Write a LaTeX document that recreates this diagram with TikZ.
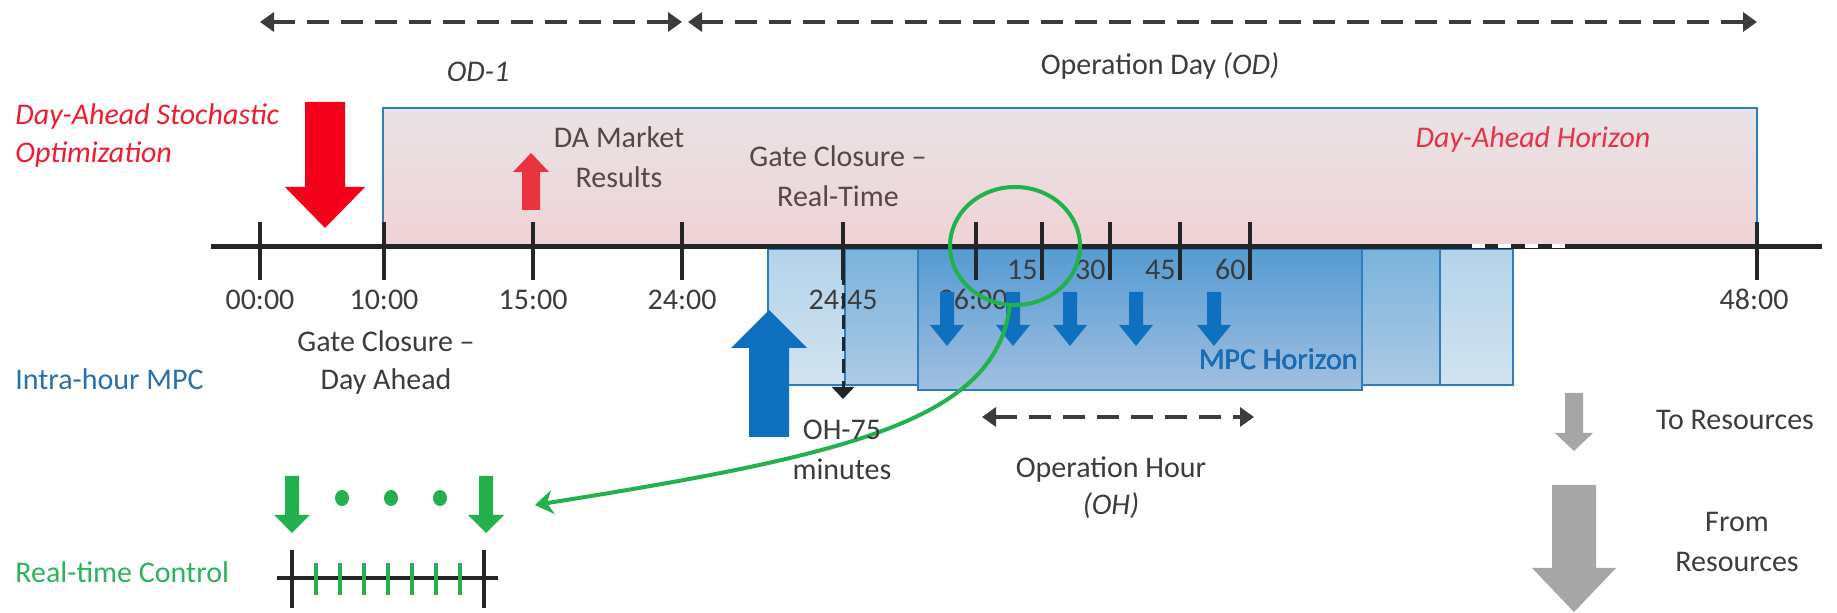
\documentclass[tikz,border=0pt]{standalone}
\usepackage{fontspec}
\setmainfont{Carlito}
\usetikzlibrary{arrows.meta,shapes.geometric}
\definecolor{txtgray}{HTML}{3C3C3C}
\definecolor{txtpink}{HTML}{564646}
\definecolor{redtxt}{HTML}{EE1C2E}
\definecolor{redarrow}{HTML}{F5001A}
\definecolor{redsmall}{HTML}{E8343F}
\definecolor{redhor}{HTML}{E43448}
\definecolor{pinkT}{HTML}{E9E3E5}
\definecolor{pinkB}{HTML}{EFD2D5}
\definecolor{boxblue}{HTML}{2E7DBF}
\definecolor{blueAa}{HTML}{B3D3EA}
\definecolor{blueAb}{HTML}{D2E3F0}
\definecolor{blueBa}{HTML}{7AB3DC}
\definecolor{blueBb}{HTML}{ADCAE5}
\definecolor{blueCa}{HTML}{559BD2}
\definecolor{blueCb}{HTML}{A2BFE1}
\definecolor{bluearrow}{HTML}{1070C0}
\definecolor{mpctxt}{HTML}{1A6DB2}
\definecolor{intratxt}{HTML}{2870A8}
\definecolor{greenc}{HTML}{22B14C}
\definecolor{greentxt}{HTML}{2BB45A}
\definecolor{grayarrow}{HTML}{A6A6A6}
\definecolor{axisc}{HTML}{222629}
\newcommand{\blockarrow}[7]{% x, tail y, head base y, tip y, shaft half, head half, colour
  \fill[#7] ({#1-#5},#2) -- ({#1+#5},#2) -- ({#1+#5},#3) -- ({#1+#6},#3) -- (#1,#4) -- ({#1-#6},#3) -- ({#1-#5},#3) -- cycle;}
\begin{document}
\begin{tikzpicture}[x=0.5pt,y=-0.5pt,
  lbl/.style={inner sep=0pt, anchor=base, font=\fontsize{15}{18}\selectfont, text=txtgray},
  lblw/.style={lbl, anchor=base west},
  lble/.style={lbl, anchor=base east},
  dasharrow/.style={draw=txtgray, line width=2pt, dash pattern=on 11pt off 6pt,
     {Triangle[length=7pt,width=9.5pt]}-{Triangle[length=7pt,width=9.5pt]}},
  tickline/.style={draw=axisc, line width=2pt},
  gtick/.style={draw=greenc, line width=2pt},
  hbox/.style={draw=boxblue, line width=1pt}]
\useasboundingbox (0,0) rectangle (1837,613);

% ---------- Day-ahead horizon box ----------
\shade[top color=pinkT, bottom color=pinkB] (383,108) rectangle (1757,247);
\draw[hbox] (383,247) -- (383,108) -- (1757,108) -- (1757,247);

% ---------- MPC boxes ----------
\shade[top color=blueAa, bottom color=blueAb] (768,249) rectangle (1513,385);
\draw[hbox] (768,249) rectangle (1513,385);
\shade[top color=blueBa, bottom color=blueBb] (845,249) rectangle (1440,385);
\draw[hbox] (845,249) rectangle (1440,385);
\shade[top color=blueCa, bottom color=blueCb] (918,249) rectangle (1362,390);
\draw[hbox] (918,249) rectangle (1362,390);

% ---------- main time axis ----------
\coordinate (axL) at (211,247);
\coordinate (axR) at (1822,247);
\draw[draw=axisc, line width=2.5pt] (axL) -- (axR);
\foreach \x in {260,384,533,682,843,976,1042,1110,1180,1250,1757}
  \draw[tickline] (\x,222) -- (\x,280);
\foreach \x in {1472,1498,1525,1552}
  \fill[white] (\x,244.5) rectangle ({\x+13},248.5);

% ---------- top span arrows ----------
\coordinate (odA) at (260,22);
\coordinate (odB) at (682,22);
\coordinate (odC) at (688,22);
\coordinate (odD) at (1757,22);
\draw[dasharrow] (odA) -- (odB);
\draw[dasharrow] (odC) -- (odD);
\node[lbl, font=\fontsize{15}{18}\selectfont\itshape] (od1) at (478,82) {OD-1};
\node[lbl] (odlbl) at (1160,75) {Operation Day \textit{(OD)}};

% ---------- day-ahead labels ----------
\node[lblw, text=redtxt, font=\fontsize{15}{18}\selectfont\itshape] (das1) at (15,125) {Day-Ahead Stochastic};
\node[lblw, text=redtxt, font=\fontsize{15}{18}\selectfont\itshape] (das2) at (15,163) {Optimization};
\blockarrow{325}{102}{187}{228}{20}{40}{redarrow}
\blockarrow{531}{210}{172}{153}{9}{18}{redsmall}
\node[lbl, text=txtpink] (dam1) at (619,148) {DA Market};
\node[lbl, text=txtpink] (dam2) at (619,188) {Results};
\node[lbl, text=txtpink] (gcr1) at (838,167) {Gate Closure –};
\node[lbl, text=txtpink] (gcr2) at (838,207) {Real-Time};
\node[lbl, text=redhor, font=\fontsize{15}{18}\selectfont\itshape] (dah) at (1533,148) {Day-Ahead Horizon};

% ---------- axis labels ----------
\node[lbl] (t0) at (260,310) {00:00};
\node[lbl] (t10) at (384,310) {10:00};
\node[lbl] (t15) at (533,310) {15:00};
\node[lbl] (t24) at (682,310) {24:00};
\node[lbl] (t2445) at (843,310) {24:45};
\node[lbl] (t26) at (973,310) {26:00};
\node[lbl] (t48) at (1754,310) {48:00};
\node[lble] (m15) at (1038,280) {15};
\node[lble] (m30) at (1106,280) {30};
\node[lble] (m45) at (1176,280) {45};
\node[lble] (m60) at (1246,280) {60};

% ---------- OH-75 marker ----------
\coordinate (ohtop) at (843,249);
\coordinate (ohbot) at (843,399);
\draw[draw=axisc, line width=1.5pt, dash pattern=on 7pt off 4pt, -{Triangle[length=6pt,width=11pt]}] (ohtop) -- (ohbot);
\blockarrow{769}{437}{348}{310}{20}{38}{bluearrow}

% ---------- MPC arrows ----------
\foreach \x in {947,1013,1070,1136,1214}
  \blockarrow{\x}{292}{325}{346}{7}{17}{bluearrow}
\node[lble, text=mpctxt] (mpch) at (1358,370) {MPC Horizon};

% ---------- zoom circle and curve ----------
\node[ellipse, draw=greenc, line width=2pt, inner sep=0pt, minimum width=65pt, minimum height=59pt] (zoomc) at (1015,246) {};
\coordinate (rtc) at (535,505);
\draw[draw=greenc, line width=2pt, -{Stealth[length=9pt,width=12pt]}] (zoomc.-95) .. controls (995,420) and (850,455) .. (rtc);

\node[lbl] (oh1) at (842,440) {OH-75};
\node[lbl] (oh2) at (842,480) {minutes};

% ---------- operation hour ----------
\coordinate (ohA) at (982,417);
\coordinate (ohB) at (1254,417);
\draw[dasharrow] (ohA) -- (ohB);
\node[lbl] (oph1) at (1111,478) {Operation Hour};
\node[lbl, font=\fontsize{15}{18}\selectfont\itshape] (oph2) at (1111,515) {(OH)};

% ---------- left labels ----------
\node[lbl] (gcd1) at (386,352) {Gate Closure –};
\node[lbl] (gcd2) at (386,390) {Day Ahead};
\node[lblw, text=intratxt] (intra) at (15,390) {Intra-hour MPC};
\node[lblw, text=greentxt] (rtct) at (15,583) {Real-time Control};

% ---------- real-time control ----------
\blockarrow{292}{476}{515}{533}{7}{18}{greenc}
\blockarrow{486}{476}{515}{533}{7}{18}{greenc}
\foreach \x in {342,391,440}
  \fill[greenc] (\x,498) ellipse [x radius=7, y radius=8];
\coordinate (rtL) at (277,578);
\coordinate (rtR) at (498,578);
\draw[draw=axisc, line width=2pt] (rtL) -- (rtR);
\draw[tickline] (292,550) -- (292,608);
\draw[tickline] (484,550) -- (484,608);
\foreach \x in {316,340,364,388,412,436,460}
  \draw[gtick] (\x,563) -- (\x,595);

% ---------- resources ----------
\blockarrow{1574}{393}{433}{451}{9}{19}{grayarrow}
\blockarrow{1574}{485}{568}{612}{22}{42}{grayarrow}
\node[lbl] (tores) at (1735,430) {To Resources};
\node[lbl] (from1) at (1737,532) {From};
\node[lbl] (from2) at (1737,572) {Resources};
\end{tikzpicture}
\end{document}
